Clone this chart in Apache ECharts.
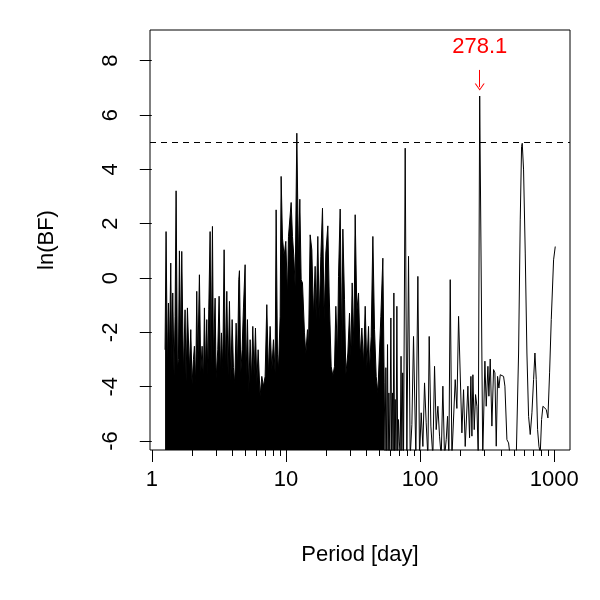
<!DOCTYPE html>
<html>
<head>
<meta charset="utf-8">
<script src="https://cdn.jsdelivr.net/npm/echarts@6/dist/echarts.min.js"></script>
<style>
html, body { margin: 0; padding: 0; background: #fff; }
#main { width: 600px; height: 600px; }
</style>
</head>
<body>
<div id="main"></div>
<script>
// short periods: sampled so densely that the plot is solid black under the envelope
var densePeriod = [
    1.256, 1.278, 1.308, 1.331, 1.353, 1.385, 1.409, 1.433, 1.466, 1.492,
    1.518, 1.553, 1.580, 1.607, 1.644, 1.673, 1.721, 1.771, 1.802, 1.844,
    1.908, 1.953, 1.997, 2.044, 2.079, 2.127, 2.164, 2.202, 2.265, 2.318,
    2.372, 2.427, 2.469, 2.512, 2.570, 2.615, 2.660, 2.722, 2.769, 2.833,
    2.882, 2.965, 3.017, 3.104, 3.176, 3.249, 3.306, 3.382, 3.461, 3.541,
    3.624, 3.707, 3.793, 3.881, 3.971, 4.062, 4.157, 4.253, 4.351, 4.452,
    4.503, 4.607, 4.714, 4.823, 4.963, 5.049, 5.166, 5.286, 5.408, 5.533,
    5.662, 5.793, 5.927, 6.065, 6.205, 6.420, 6.608, 6.798, 6.996, 7.200,
    7.408, 7.623, 7.845, 8.072, 8.306, 8.450, 8.645, 8.795, 9.051, 9.208,
    9.421, 9.695, 9.977, 10.266, 10.444, 10.687, 10.934, 11.186, 11.447, 11.712,
    12.053, 12.401, 12.690, 12.983, 13.283, 13.746, 14.066, 14.473, 14.723, 15.152,
    15.592, 16.043, 16.510, 16.796, 17.285, 17.685, 18.200, 18.726, 19.271, 19.831,
    20.524, 21.000, 21.734, 22.366, 23.013, 23.548, 24.229, 24.649, 25.367, 26.105,
    26.557, 27.326, 27.962, 28.938, 29.775, 30.468, 31.172, 32.078, 32.820, 33.774,
    34.751, 35.763, 36.803, 37.866, 38.968, 40.10, 41.26, 41.97, 43.19, 44.45,
    45.74, 47.07, 48.42, 49.82, 50.98, 52.76, 53.99
];
var denseLnBF = [
    -2.64, 1.71, -3.40, -0.92, -2.90, 0.55, -3.20, -0.55, -3.60, -1.41,
    3.21, -3.30, -3.00, 1.00, -2.60, 0.98, -3.50, -1.17, -3.80, -1.10,
    -3.40, -1.90, -3.90, -3.00, -2.51, -3.90, -0.49, -3.30, 0.12, -3.50,
    -2.51, -3.80, -1.10, -3.40, -1.53, -3.60, -1.17, 1.71, -3.20, 1.90,
    -3.00, -0.74, -3.70, -2.64, -0.67, -3.50, -2.02, -3.30, 1.04, -3.40,
    -0.49, -3.60, -0.86, -3.80, -1.53, -3.30, -3.90, -1.66, -3.40, -0.06,
    0.27, -3.50, -2.64, -1.10, 0.49, -3.60, -1.53, -4.23, -2.27, -3.80,
    -1.78, -3.60, -1.84, -3.90, -2.64, -4.35, -3.62, -3.98, -3.62, -0.98,
    -3.60, -1.78, -3.40, -2.27, -3.50, 2.51, -2.80, -3.40, -1.41, 3.74,
    1.47, 0.80, 1.35, -0.67, 1.53, 1.55, 2.78, 1.53, 0.80, -0.31,
    5.33, 0.67, 2.90, -0.06, -0.18, -2.02, -2.80, -1.90, -2.60, 1.59,
    1.04, -1.41, 0.43, -1.53, 1.53, -1.53, 0.80, 2.57, -1.53, 0.92,
    1.92, -0.55, -3.25, -3.60, -3.25, -1.04, -2.90, 0.06, 2.54, -2.76,
    1.80, -0.80, -3.55, -2.76, -1.29, -2.90, -0.18, -2.50, 2.33, -1.23,
    -0.55, -2.90, -1.84, -3.20, -1.04, -3.30, -1.78, -3.40, -2.15, 1.53,
    -1.90, -3.62, -4.23, -4.23, -1.41, 0.73, -3.86
];
// longer periods: individual oscillations are visible
var sparsePeriod = [
    53.99, 54.80, 55.56, 56.40, 57.17, 57.80, 58.50, 59.50, 60.54, 61.40,
    62.29, 63.00, 63.74, 64.50, 65.21, 66.20, 67.11, 68.10, 69.05, 70.00,
    71.06, 72.10, 73.12, 74.20, 75.24, 77.42, 79.67, 81.97, 84.36, 86.81,
    89.32, 92.98, 96.24, 99.02, 101.9, 104.9, 107.9, 111.0, 114.3, 116.9,
    120.3, 124.5, 128.1, 131.8, 135.7, 139.6, 143.7, 147.8, 152.1, 156.6,
    160.2, 163.9, 167.7, 172.6, 182.7, 188.0, 193.5, 204.9, 210.8, 216.9,
    227.1, 233.7, 239.1, 243.3, 247.5, 253.2, 259.0, 265.1, 271.2, 278.1,
    293.0, 304.1, 311.1, 320.2, 325.7, 333.2, 342.9, 352.8, 361.1, 369.4,
    377.9, 386.7, 395.7, 407.2, 418.9, 428.7, 443.7, 456.5, 469.8, 497.4,
    520.7, 542.0, 557.7, 570.6, 577.2, 590.5, 607.7, 625.4, 643.5, 662.2,
    681.5, 701.2, 717.5, 734.1, 751.0, 768.5, 786.3, 804.4, 823.1, 846.9,
    871.5, 896.9, 922.8, 949.6, 988.4, 1017.2
];
var sparseLnBF = [
    -3.86, -6.60, -3.30, -6.60, -2.45, -6.60, -4.23, -6.60, -1.47, -6.60,
    -4.23, -6.60, -0.55, -6.60, -4.47, -6.60, -1.04, -6.60, -5.21, -6.00,
    -6.60, -2.88, -6.60, -3.49, -6.60, 4.78, -6.60, 0.80, -6.60, -5.40,
    -2.15, -6.60, 0.06, -6.60, -4.96, -6.20, -3.86, -5.33, -6.60, -2.15,
    -5.45, -6.60, -3.25, -5.58, -4.72, -5.82, -6.60, -3.98, -6.60, -5.94,
    -5.09, -6.60, -0.06, -6.60, -3.74, -4.80, -1.41, -5.70, -4.11, -6.20,
    -3.98, -5.88, -3.62, -5.82, -3.56, -5.58, -4.29, -4.72, -6.60, 6.70,
    -6.60, -3.06, -4.72, -3.25, -4.35, -2.98, -5.45, -3.37, -3.49, -6.19,
    -3.62, -4.05, -3.56, -3.62, -3.62, -3.98, -5.95, -6.07, -6.60, -7.20,
    -6.60, -2.76, 2.14, 4.84, 4.96, 3.98, 0.92, -2.76, -5.09, -5.76,
    -4.96, -3.74, -2.76, -3.74, -5.58, -6.19, -6.44, -5.21, -4.72, -4.66,
    -4.84, -5.15, -3.49, -1.53, 0.67, 1.16
];

var xMajorTicks = [1, 10, 100, 1000];
var xMinorTicks = [2, 3, 4, 5, 6, 7, 8, 9, 20, 30, 40, 50, 60, 70, 80, 90,
    200, 300, 400, 500, 600, 700, 800, 900];
var yTicks = [-6, -4, -2, 0, 2, 4, 6, 8];
var threshold = 5;
var peakPeriod = 278.1;
var peakLabel = '278.1';

var xMin = 0.97, xMax = 1310;
var fontFamily = '"Liberation Sans", Arial, Helvetica, sans-serif';
var fontSize = 22;

function pairs(xs, ys) {
    return xs.map(function (x, i) { return [x, ys[i]]; });
}
function log10All(vals) {
    return vals.map(function (v) { return Math.log10(v); });
}

var chart = echarts.init(document.getElementById('main'), null, { renderer: 'canvas' });

var option = {
    animation: false,
    backgroundColor: '#fff',
    grid: {
        left: 150, right: 30, top: 30, bottom: 150,
        show: true, borderColor: '#000', borderWidth: 1
    },
    xAxis: [
        {
            // data axis (log scale)
            type: 'log', logBase: 10, min: xMin, max: xMax,
            axisLine: { show: false }, axisTick: { show: false },
            axisLabel: { show: false }, splitLine: { show: false }
        },
        {
            // major ticks and labels, placed on the same log scale
            type: 'value', position: 'bottom', offset: 0,
            min: Math.log10(xMin), max: Math.log10(xMax),
            axisLine: { show: false }, splitLine: { show: false },
            axisTick: {
                customValues: log10All(xMajorTicks), length: 12,
                lineStyle: { color: '#000', width: 1 }
            },
            axisLabel: {
                customValues: log10All(xMajorTicks), margin: 19,
                color: '#000', fontSize: fontSize, fontFamily: fontFamily,
                formatter: function (v) { return String(Math.round(Math.pow(10, v))); }
            },
            name: 'Period [day]', nameLocation: 'middle', nameGap: 94,
            nameTextStyle: { color: '#000', fontSize: fontSize, fontFamily: fontFamily }
        },
        {
            // minor ticks
            type: 'value', position: 'bottom', offset: 0,
            min: Math.log10(xMin), max: Math.log10(xMax),
            axisLine: { show: false }, splitLine: { show: false },
            axisTick: {
                customValues: log10All(xMinorTicks), length: 6,
                lineStyle: { color: '#000', width: 1 }
            },
            axisLabel: { show: false }
        }
    ],
    yAxis: {
        type: 'value', min: -6.33, max: 9.13,
        axisLine: { show: false }, splitLine: { show: false },
        axisTick: {
            customValues: yTicks, length: 12,
            lineStyle: { color: '#000', width: 1 }
        },
        axisLabel: {
            customValues: yTicks, rotate: 90, margin: 28,
            color: '#000', fontSize: fontSize, fontFamily: fontFamily
        },
        name: 'ln(BF)', nameLocation: 'middle', nameGap: 92,
        nameTextStyle: { color: '#000', fontSize: fontSize, fontFamily: fontFamily }
    },
    series: [
        {
            name: 'dense',
            type: 'line',
            xAxisIndex: 0,
            data: pairs(densePeriod, denseLnBF),
            showSymbol: false, symbol: 'none', silent: true,
            lineStyle: { color: '#000', width: 1 },
            areaStyle: { color: '#000', opacity: 1, origin: 'start' },
            markLine: {
                silent: true, symbol: 'none', animation: false,
                label: { show: false },
                lineStyle: { color: '#000', width: 1, type: [6, 5] },
                data: [{ yAxis: threshold }]
            }
        },
        {
            name: 'sparse',
            type: 'line',
            xAxisIndex: 0,
            data: pairs(sparsePeriod, sparseLnBF),
            showSymbol: false, symbol: 'none', silent: true,
            lineStyle: { color: '#000', width: 1 },
            markLine: {
                silent: true, animation: false,
                symbol: ['none', 'path://M0,7 L5,0 L10,7 L8.8,7 L5,1.6 L1.2,7 Z'],
                symbolSize: [10, 7],
                label: { show: false },
                lineStyle: { color: '#ff0000', width: 1, type: 'solid' },
                data: [[{ coord: [peakPeriod, 7.66] }, { coord: [peakPeriod, 7.03] }]]
            },
            markPoint: {
                silent: true, animation: false,
                symbol: 'circle', symbolSize: 0,
                label: {
                    show: true, position: 'inside', formatter: peakLabel,
                    color: '#ff0000', fontSize: fontSize, fontFamily: fontFamily
                },
                data: [{ coord: [peakPeriod, 8.5] }]
            }
        }
    ]
};

chart.setOption(option);
</script>
</body>
</html>
